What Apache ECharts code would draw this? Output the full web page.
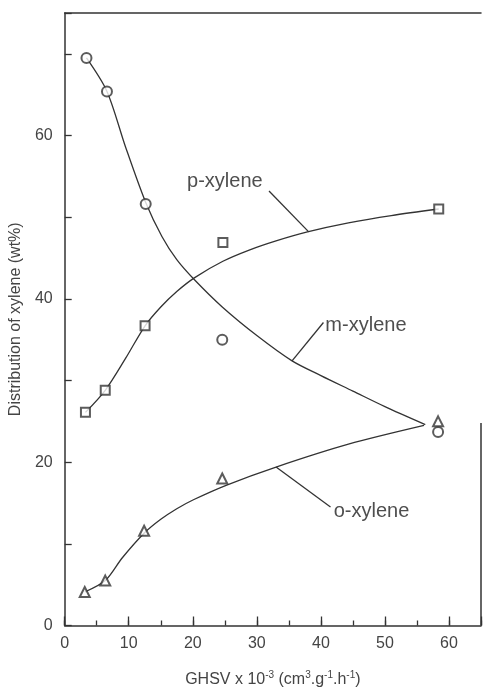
<!DOCTYPE html>
<html>
<head>
<meta charset="utf-8">
<script src="https://cdn.jsdelivr.net/npm/echarts@6/dist/echarts.min.js"></script>
<style>html,body{margin:0;padding:0;background:#fff;}#c{width:484px;height:693px;}</style>
</head>
<body>
<div id="c"></div>
<script>
// Measured points
const mPoints = [[3.4, 69.5], [6.6, 65.4], [12.65, 51.6], [24.6, 35.0], [58.3, 23.7]];
const pPoints = [[3.24, 26.1], [6.33, 28.8], [12.55, 36.7], [24.7, 46.9], [58.4, 51.0]];
const oPoints = [[3.13, 4.1], [6.33, 5.5], [12.4, 11.6], [24.6, 18.0], [58.3, 25.0]];
// Fitted curves
const mCurve = [[3.4, 69.5], [6.6, 65.4], [9.5, 58.6], [12.65, 51.8], [15.2, 47.6], [17.5, 44.8], [20.3, 42.3], [24.6, 39.0], [30, 35.5], [35.5, 32.4], [40, 30.6], [45, 28.7], [50, 26.8], [56.3, 24.6]];
const pCurve = [[3.24, 26.1], [6.33, 28.8], [9.5, 32.7], [12.55, 36.7], [15, 39.0], [17.5, 40.9], [20.3, 42.6], [24.7, 44.6], [28.9, 46.0], [33, 47.1], [37.9, 48.2], [44.3, 49.3], [51, 50.2], [58.4, 51.0]];
const oCurve = [[3.13, 4.1], [6.33, 5.5], [9, 8.3], [12.4, 11.3], [15, 13.0], [17.5, 14.3], [20.1, 15.4], [25.3, 17.2], [33.0, 19.4], [44.3, 22.2], [56.1, 24.5]];
// Labels and leader lines
const labelNames = ['p-xylene', 'm-xylene', 'o-xylene'];
const labelAnchors = [[19.1, 54.4], [40.7, 36.7], [42.0, 13.9]];
const leaders = [
  [[31.9, 53.2], [38.1, 48.2]],
  [[40.4, 37.1], [35.5, 32.4]],
  [[41.5, 14.5], [33.0, 19.4]]
];
const xTicks = [0, 10, 20, 30, 40, 50, 60];
const yTicks = [0, 20, 40, 60];
const rightFrame = [[65, 24.8], [65, 0]];

const ink = '#333';
const txt = '#444';
const font = 'Liberation Sans, Arial, sans-serif';

const chart = echarts.init(document.getElementById('c'), null, {renderer: 'canvas'});

const series = [];
[mCurve, pCurve, oCurve].forEach(c => series.push({
  type: 'line', data: c, showSymbol: false, smooth: 0.3,
  lineStyle: {color: ink, width: 1.3}, silent: true, z: 2
}));
leaders.forEach(l => series.push({
  type: 'line', data: l, showSymbol: false, lineStyle: {color: ink, width: 1.3}, silent: true, z: 2
}));
series.push({
  type: 'line', data: rightFrame, showSymbol: false, clip: false,
  lineStyle: {color: ink, width: 1.5}, silent: true, z: 2
});
const sym = [['emptyCircle', 10, mPoints], ['emptyRect', 9, pPoints], ['emptyTriangle', 10, oPoints]];
sym.forEach(s => series.push({
  type: 'scatter', symbol: s[0], symbolSize: s[1], data: s[2],
  itemStyle: {color: ink, borderColor: ink, borderWidth: 1.3}, z: 3
}));
series.push({
  type: 'scatter', symbolSize: 0,
  data: labelAnchors.map((a, i) => ({value: a, name: labelNames[i]})),
  label: {show: true, position: 'right', distance: 0, formatter: p => p.name,
    fontSize: 20, color: '#222', fontFamily: font},
  z: 4
});

chart.setOption({
  animation: false,
  backgroundColor: '#fff',
  grid: {left: 64, right: 1, top: 13, bottom: 67},
  xAxis: [
    {
      type: 'value', min: 0, max: 65, interval: 5, position: 'bottom',
      name: 'GHSV x 10{sup|-3} (cm{sup|3}.g{sup|-1}.h{sup|-1})',
      nameLocation: 'middle', nameGap: 45,
      nameTextStyle: {fontSize: 16, color: txt, fontFamily: font,
        rich: {sup: {fontSize: 10, color: txt, fontFamily: font, padding: [0, 0, 9, 0]}}},
      axisLine: {show: true, lineStyle: {color: ink, width: 1.5}},
      axisTick: {show: true, inside: true, length: 5, lineStyle: {color: ink, width: 1.3}},
      axisLabel: {fontSize: 16, color: txt, fontFamily: font, margin: 10,
        formatter: v => xTicks.includes(v) ? String(v) : ''},
      splitLine: {show: false}
    },
    {
      type: 'value', min: 0, max: 65, interval: 10, position: 'bottom',
      axisLine: {show: false},
      axisTick: {show: true, inside: true, length: 9, lineStyle: {color: ink, width: 1.3}},
      axisLabel: {show: false}, splitLine: {show: false}
    },
    {
      type: 'value', min: 0, max: 65, position: 'top',
      axisLine: {show: true, lineStyle: {color: ink, width: 1.5}},
      axisTick: {show: false}, axisLabel: {show: false}, splitLine: {show: false}
    }
  ],
  yAxis: {
    type: 'value', min: 0, max: 75, interval: 10,
    name: 'Distribution of xylene (wt%)', nameLocation: 'middle', nameGap: 36,
    nameTextStyle: {fontSize: 16, color: txt, fontFamily: font},
    axisLine: {show: true, lineStyle: {color: ink, width: 1.5}},
    axisTick: {show: true, inside: true, length: 7, lineStyle: {color: ink, width: 1.3}},
    axisLabel: {fontSize: 16, color: txt, fontFamily: font, margin: 12,
      formatter: v => yTicks.includes(v) ? String(v) : ''},
    splitLine: {show: false}
  },
  series: series
});
</script>
</body>
</html>
